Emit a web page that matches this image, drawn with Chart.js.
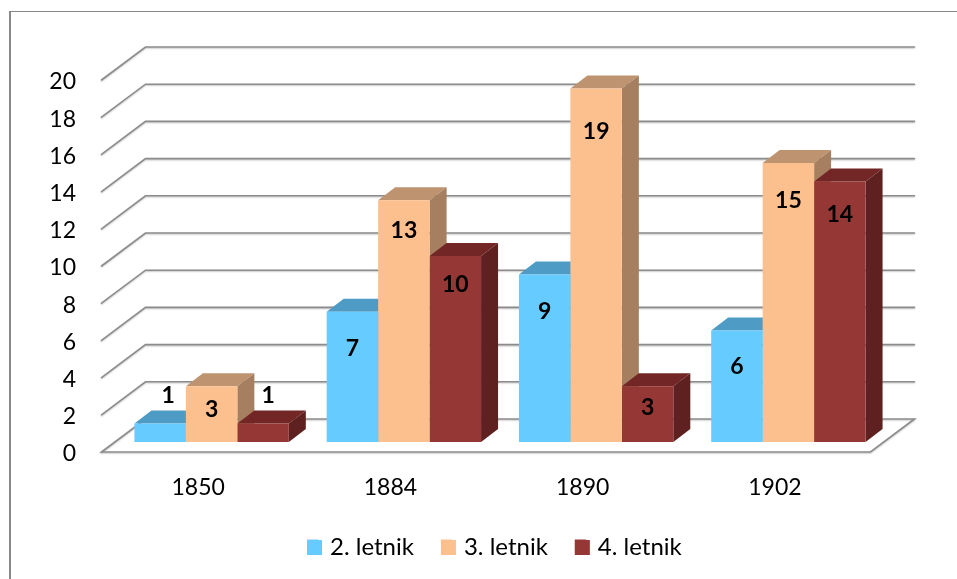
<!DOCTYPE html>
<html><head><meta charset="utf-8">
<style>html,body{margin:0;padding:0;background:#fff}canvas{display:block}</style>
<script src="https://cdn.jsdelivr.net/npm/chart.js@4"></script>
</head><body>
<canvas id="c" width="957" height="579"></canvas>
<script>
const categories = ['1850','1884','1890','1902'];
const seriesNames = ['2. letnik','3. letnik','4. letnik'];
const letnik2 = [1,7,9,6];
const letnik3 = [3,13,19,15];
const letnik4 = [1,10,3,14];
const frontColors = ['#66CCFF','#FCC08F','#953735'];
const topColors = ['#4E9BC5','#BE9470','#722726'];
const sideColors = ['#3D7EA3','#A57F5F','#5E2120'];
// label nudges, px from the bar's top edge, [dx, dy]
const labelNudge = [
 [[8,-28],[0,37],[0,37],[0,36]],
 [[0,23],[0,30],[0,43],[0,38]],
 [[5,-28],[0,29],[0,21],[0,33]]
];
const DX=17, DY=-13;
const FONT='Lato, "Open Sans", sans-serif';
const SWATCH=15;

const scene = {
  id:'scene',
  afterLayout(ch){
    ch.legend.left=280; ch.legend.top=508;
    ch.legend.adjustHitBoxes();
  },
  beforeDraw(ch){
    const x=ch.ctx;
    x.save();
    x.strokeStyle='#888';
    x.lineWidth=2;x.beginPath();x.moveTo(10,579);x.lineTo(10,11);x.stroke();
    x.lineWidth=1.2;x.beginPath();x.moveTo(9,11.5);x.lineTo(957,11.5);x.stroke();
    x.restore();
  },
  beforeDatasetsDraw(ch){
    const x=ch.ctx, ys=ch.scales.y, a=ch.chartArea;
    const fx=-14, fy=10, bx=30, by=-23;
    const l=a.left, r=a.right;
    x.save();
    x.lineCap='round';
    ys.ticks.forEach(t=>{
      const p=ys.getPixelForValue(t.value);
      x.strokeStyle='#8c8c8c';x.lineWidth=1.6;
      x.shadowColor='rgba(0,0,0,.22)';x.shadowBlur=1.5;x.shadowOffsetY=1;
      x.beginPath();
      x.moveTo(l+fx,p+fy);x.lineTo(l+bx,p+by);x.lineTo(r+bx,p+by);
      if(t.value===0){x.lineTo(r+fx,p+fy);x.closePath();}
      x.stroke();
      x.shadowColor='transparent';x.shadowBlur=0;x.shadowOffsetY=0;
    });
    ch.data.datasets.forEach((ds,i)=>{
      ch.getDatasetMeta(i).data.forEach(b=>{
        const L=b.x-b.width/2,R=b.x+b.width/2,T=b.y,B=b.base;
        x.fillStyle=topColors[i];
        x.beginPath();x.moveTo(L,T);x.lineTo(L+DX,T+DY);x.lineTo(R+DX,T+DY);x.lineTo(R,T);x.closePath();x.fill();
        x.fillStyle=sideColors[i];
        x.beginPath();x.moveTo(R,T);x.lineTo(R+DX,T+DY);x.lineTo(R+DX,B+DY);x.lineTo(R,B);x.closePath();x.fill();
      });
    });
    x.restore();
  },
  afterDatasetsDraw(ch){
    const x=ch.ctx;
    x.save();
    x.fillStyle='#000';x.font='bold 23px '+FONT;x.textAlign='center';x.textBaseline='middle';
    ch.data.datasets.forEach((ds,i)=>{
      ch.getDatasetMeta(i).data.forEach((b,j)=>{
        const n=labelNudge[i][j];
        x.fillText(ds.data[j],b.x+n[0],b.y+n[1]);
      });
    });
    x.restore();
  },
  afterDraw(ch){
    // widen each legend swatch past the library's fixed box-to-text gap
    const x=ch.ctx;
    x.save();
    ch.legend.legendHitBoxes.forEach((hb,i)=>{
      x.fillStyle=frontColors[i];
      x.fillRect(hb.left,ch.legend.top+32,SWATCH,SWATCH);
    });
    x.restore();
  }
};

new Chart(document.getElementById('c'),{
  type:'bar',
  data:{labels:categories,datasets:[letnik2,letnik3,letnik4].map((d,i)=>({
    label:seriesNames[i],data:d,backgroundColor:frontColors[i],borderWidth:0,
    categoryPercentage:0.803,barPercentage:1}))},
  options:{
    responsive:false,animation:false,
    layout:{padding:{left:0,right:72.5,top:70,bottom:0}},
    plugins:{
      tooltip:{enabled:false},
      legend:{position:'bottom',align:'start',
        labels:{boxWidth:11,boxHeight:15,padding:27,color:'#000',font:{family:FONT,size:24}}}
    },
    scales:{
      x:{grid:{display:false},border:{display:false},
        ticks:{color:'#000',font:{family:FONT,size:23},padding:23.5,labelOffset:-13.5,maxRotation:0},
        afterFit(s){s.height=76;}},
      y:{min:0,max:20,grid:{display:false},border:{display:false},
        ticks:{stepSize:2,color:'#000',font:{family:FONT,size:23},padding:31.5,labelOffset:12},
        afterFit(s){s.width=115.5;}}
    }
  },
  plugins:[scene]
});
</script>
</body></html>
